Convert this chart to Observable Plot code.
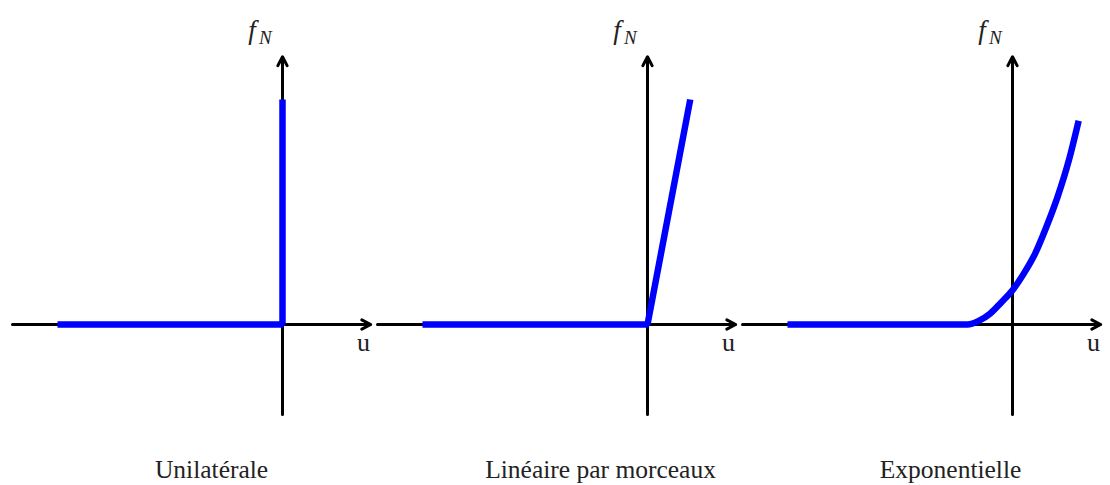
<!DOCTYPE html>
<html>
<head>
<meta charset="utf-8">
<script src="https://cdn.jsdelivr.net/npm/d3@7"></script>
<script src="https://cdn.jsdelivr.net/npm/@observablehq/plot@0.6"></script>
<style>
  html, body { margin: 0; padding: 0; background: #fff; }
  svg { display: block; }
</style>
</head>
<body>
<div id="chart"></div>
<script>
// Panels (captions)
const panels = ["Unilatérale", "Linéaire par morceaux", "Exponentielle"];

// Axis extents (data units)
const axisU = [-6, 1.96];
const axisF = [-2, 5.95];

// Panel 1: unilateral
const uniU = [-5, 0, 0];
const uniF = [0, 0, 5];

// Panel 2: piecewise linear
const linU = [-5, 0, 0.95];
const linF = [0, 0, 5];

// Panel 3: exponential
const expU = [-5, -1, -0.75, -0.5, -0.25, 0, 0.25, 0.5, 0.75, 1, 1.25, 1.47];
const expF = [0, 0, 0.08, 0.24, 0.49, 0.76, 1.13, 1.57, 2.16, 2.83, 3.64, 4.53];

const piecewise = [
  ...uniU.map((u, i) => ({panel: panels[0], u, f: uniF[i]})),
  ...linU.map((u, i) => ({panel: panels[1], u, f: linF[i]}))
];
const expo = expU.map((u, i) => ({panel: panels[2], u, f: expF[i]}));

const font = "'Liberation Serif', 'DejaVu Serif', serif";

// caption horizontal anchor per panel (offset in px)
const captionDx = [-12, 12, -3];

const chart = Plot.plot({
  width: 1110,
  height: 485,
  marginLeft: 12,
  marginRight: 8,
  marginTop: 0,
  marginBottom: 0,
  style: {fontFamily: font, background: "white", overflow: "visible"},
  fx: {domain: panels, axis: null, paddingInner: 5 / 365, paddingOuter: 0, round: false},
  x: {domain: [-6, 2], axis: null},
  y: {domain: [-161 / 45, 324 / 45], axis: null},
  marks: [
    // horizontal axis
    Plot.arrow([0], {
      x1: axisU[0], y1: 0, x2: axisU[1], y2: 0,
      stroke: "black", strokeWidth: 3, headLength: 5, headAngle: 55, bend: 0
    }),
    // vertical axis
    Plot.arrow([0], {
      x1: 0, y1: axisF[0], x2: 0, y2: axisF[1],
      stroke: "black", strokeWidth: 3, headLength: 5, headAngle: 55, bend: 0
    }),
    // blue curves
    Plot.line(piecewise, {
      x: "u", y: "f", fx: "panel", z: "panel",
      stroke: "#0000ff", strokeWidth: 6.5, strokeLinejoin: "miter", strokeLinecap: "butt"
    }),
    Plot.line(expo, {
      x: "u", y: "f", fx: "panel",
      stroke: "#0000ff", strokeWidth: 6.5, curve: "monotone-x", strokeLinecap: "butt"
    }),
    // axis labels
    Plot.text([0], {
      x: -0.68, y: 6.35, text: () => "f", fontStyle: "italic",
      fontSize: 27, lineAnchor: "bottom", textAnchor: "middle", fill: "#222"
    }),
    Plot.text([0], {
      x: -0.38, y: 6.24, text: () => "N", fontStyle: "italic",
      fontSize: 19, lineAnchor: "bottom", textAnchor: "middle", fill: "#222"
    }),
    Plot.text([0], {
      x: 1.8, y: -0.58, text: () => "u",
      fontSize: 26, lineAnchor: "bottom", textAnchor: "middle", fill: "#222"
    }),
    // captions
    ...panels.map((p, i) => Plot.text([p], {
      x: -1.31, y: -3.4, fx: () => p, text: d => d, dx: captionDx[i],
      fontSize: 25.5, lineAnchor: "bottom", textAnchor: "middle", fill: "#222"
    }))
  ]
});

document.getElementById("chart").appendChild(chart);
</script>
</body>
</html>
